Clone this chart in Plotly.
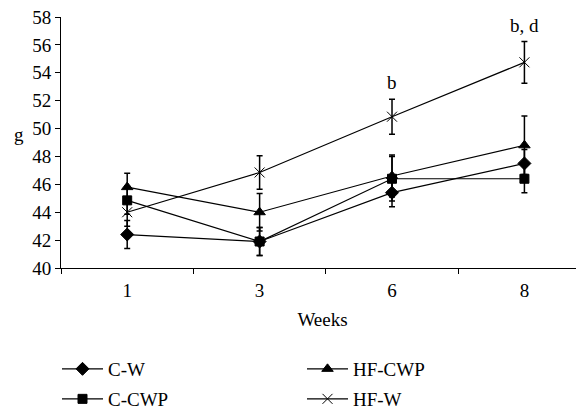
import plotly.graph_objects as go

weeks = ["1", "3", "6", "8"]

cw = [42.4, 41.9, 45.4, 47.5]
cw_err = [1.0, 1.0, 1.0, 1.0]
ccwp = [44.85, 41.9, 46.4, 46.4]
ccwp_err = [1.0, 1.0, 1.6, 1.0]
hfcwp = [45.8, 44.0, 46.6, 48.8]
hfcwp_err = [1.0, 1.35, 1.5, 2.1]
hfw = [44.0, 46.85, 50.85, 54.75]
hfw_err = [1.0, 1.2, 1.25, 1.5]

sig_labels = ["", "", "b", "b, d"]
sig_y = [None, None, 53.3, 57.4]

FONT = "Liberation Serif"
W, H = 576, 404          # page body adds an 8px offset
L, T, B = 53, 9, 144
PW, PH = W - L, H - T - B

fig = go.Figure()

def add(name, y, err, symbol, size, legend):
    fig.add_trace(go.Scatter(
        x=weeks, y=y, name=name, mode="lines+markers",
        line=dict(color="black", width=1.2),
        marker=dict(symbol=symbol, size=size, color="black",
                    line=dict(color="black", width=1)),
        error_y=dict(type="data", array=err, visible=True,
                     color="black", thickness=1.5, width=3),
        legend=legend,
    ))

add("C-W", cw, cw_err, "diamond", 10, "legend")
add("C-CWP", ccwp, ccwp_err, "square", 9, "legend2")
add("HF-CWP", hfcwp, hfcwp_err, "triangle-up", 10, "legend3")
add("HF-W", hfw, hfw_err, "x-thin-open", 10, "legend4")

for i, (t, yv) in enumerate(zip(sig_labels, sig_y)):
    if t:
        fig.add_annotation(x=i, y=yv, text=t, showarrow=False,
                           xref="x", yref="y",
                           font=dict(family=FONT, size=19, color="black"))

fig.add_annotation(x=(4 - L) / PW, y=(H - B - 126) / PH, xref="paper", yref="paper",
                   text="g", showarrow=False,
                   font=dict(family=FONT, size=19, color="black"))

def leg(xpix, toppix):
    return dict(orientation="v", yref="container", y=1 - toppix / H,
                yanchor="top", xanchor="left", itemwidth=41,
                x=(xpix - 4 - L) / PW,
                tracegroupgap=0, bgcolor="rgba(0,0,0,0)",
                font=dict(family=FONT, size=19, color="black"))

row1, row2 = 342, 372
col1, col2 = 53, 298

fig.update_layout(
    width=W, height=H,
    margin=dict(l=L, r=0, t=T, b=B),
    plot_bgcolor="white", paper_bgcolor="white",
    font=dict(family=FONT, size=19, color="black"),
    showlegend=True,
    legend=leg(col1, row1),
    legend2=leg(col1, row2),
    legend3=leg(col2, row1),
    legend4=leg(col2, row2),
    xaxis=dict(type="category", showgrid=False, showline=True,
               linecolor="black", linewidth=1, ticks="outside",
               tickson="boundaries", ticklen=5, tickcolor="black",
               ticklabelstandoff=5,
               range=[-0.5, 3.45], automargin=False,
               title=dict(text="Weeks", font=dict(family=FONT, size=19), standoff=12)),
    yaxis=dict(range=[40, 58], dtick=2, showgrid=False, showline=True,
               linecolor="black", linewidth=1, ticks="outside", automargin=False,
               ticklabeloverflow="allow",
               ticklen=5, tickcolor="black", zeroline=False),
)

fig.write_html("out.html")
